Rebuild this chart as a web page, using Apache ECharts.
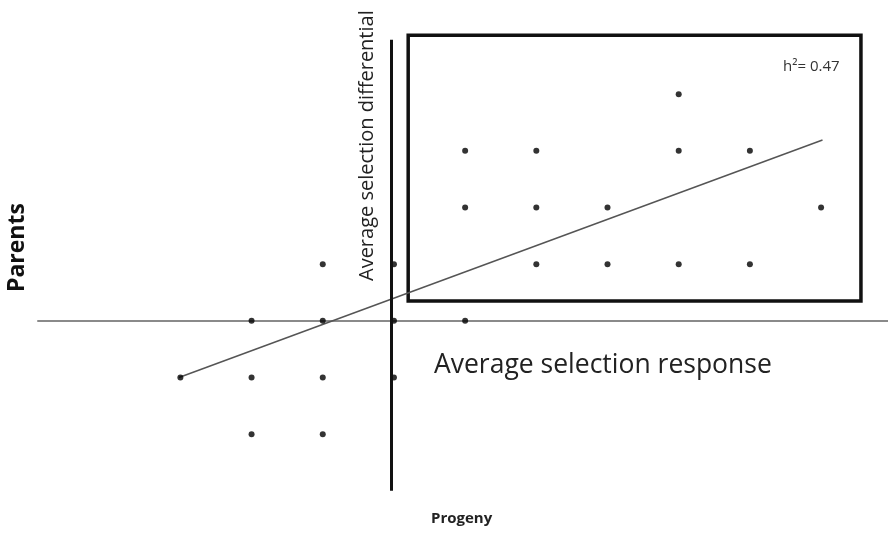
<!DOCTYPE html>
<html>
<head>
<meta charset="utf-8">
<script src="https://cdn.jsdelivr.net/npm/echarts@6/dist/echarts.min.js"></script>
<style>
  html, body { margin: 0; padding: 0; background: #fff; }
  #chart { width: 888px; height: 537px; }
</style>
</head>
<body>
<div id="chart"></div>
<script>
// point grid positions (x = progeny step, y = parent step)
var pointsX = [4, 1, 2, 4, 5, 1, 2, 3, 6, -1, 0, 2, 3, 4, 5, -2, -1, 0, 1, -3, -2, -1, 0, -2, -1];
var pointsY = [4, 3, 3, 3, 3, 2, 2, 2, 2, 1, 1, 1, 1, 1, 1, 0, 0, 0, 0, -1, -1, -1, -1, -2, -2];
// regression line ends
var fitX = [-3.02, 6.02];
var fitY = [-1.0, 3.19];
// selection box corners [x, y]
var boxFrom = [0.2, 5.04];
var boxTo = [6.56, 0.35];
// vertical divider
var dividerX = -0.04;
var dividerY = [4.96, -3.0];
var heritLabel = 'h²= 0.47';

var points = pointsX.map(function (x, i) { return [x, pointsY[i]]; });
var fit = fitX.map(function (x, i) { return [x, fitY[i]]; });

var chart = echarts.init(document.getElementById('chart'));
var font = '"Open Sans", "Liberation Sans", sans-serif';

chart.setOption({
  animation: false,
  grid: { left: 38, right: 0, top: 31.8, bottom: 45 },
  xAxis: {
    type: 'value',
    min: -5,
    max: 6.94,
    axisLine: { show: true, onZero: true, lineStyle: { color: '#8a8a8a', width: 2 } },
    axisTick: { show: false },
    axisLabel: { show: false },
    splitLine: { show: false }
  },
  yAxis: {
    type: 'value',
    min: -3.02,
    max: 5.1,
    axisLine: { show: false },
    axisTick: { show: false },
    axisLabel: { show: false },
    splitLine: { show: false }
  },
  graphic: [
    {
      type: 'text',
      position: [6, 292], rotation: Math.PI / 2,
      style: { text: 'Parents', font: 'bold 23px ' + font, fill: '#111' }
    },
    {
      type: 'text',
      position: [357, 281], rotation: Math.PI / 2,
      style: { text: 'Average selection differential', font: '20px ' + font, fill: '#222' }
    },
    {
      type: 'text', left: 434, top: 352,
      style: { text: 'Average selection response', font: '26.5px ' + font, fill: '#222' }
    },
    {
      type: 'text', left: 431, top: 511,
      style: { text: 'Progeny', font: 'bold 15px ' + font, fill: '#222' }
    },
    {
      type: 'text', left: 783, top: 59,
      style: { text: heritLabel, font: '15px ' + font, fill: '#333' }
    }
  ],
  series: [
    {
      type: 'line',
      data: fit,
      symbol: 'none',
      lineStyle: { color: '#555', width: 1.5 },
      z: 2,
      markLine: {
        silent: true,
        symbol: 'none',
        label: { show: false },
        lineStyle: { color: '#111', width: 3, type: 'solid' },
        data: [[{ coord: [dividerX, dividerY[0]] }, { coord: [dividerX, dividerY[1]] }]]
      },
      markArea: {
        silent: true,
        itemStyle: { color: 'rgba(0,0,0,0)', borderColor: '#111', borderWidth: 3.5 },
        data: [[{ coord: boxFrom }, { coord: boxTo }]]
      }
    },
    {
      type: 'scatter',
      data: points,
      symbolSize: 6,
      itemStyle: { color: '#000' },
      z: 3
    }
  ]
});
</script>
</body>
</html>
